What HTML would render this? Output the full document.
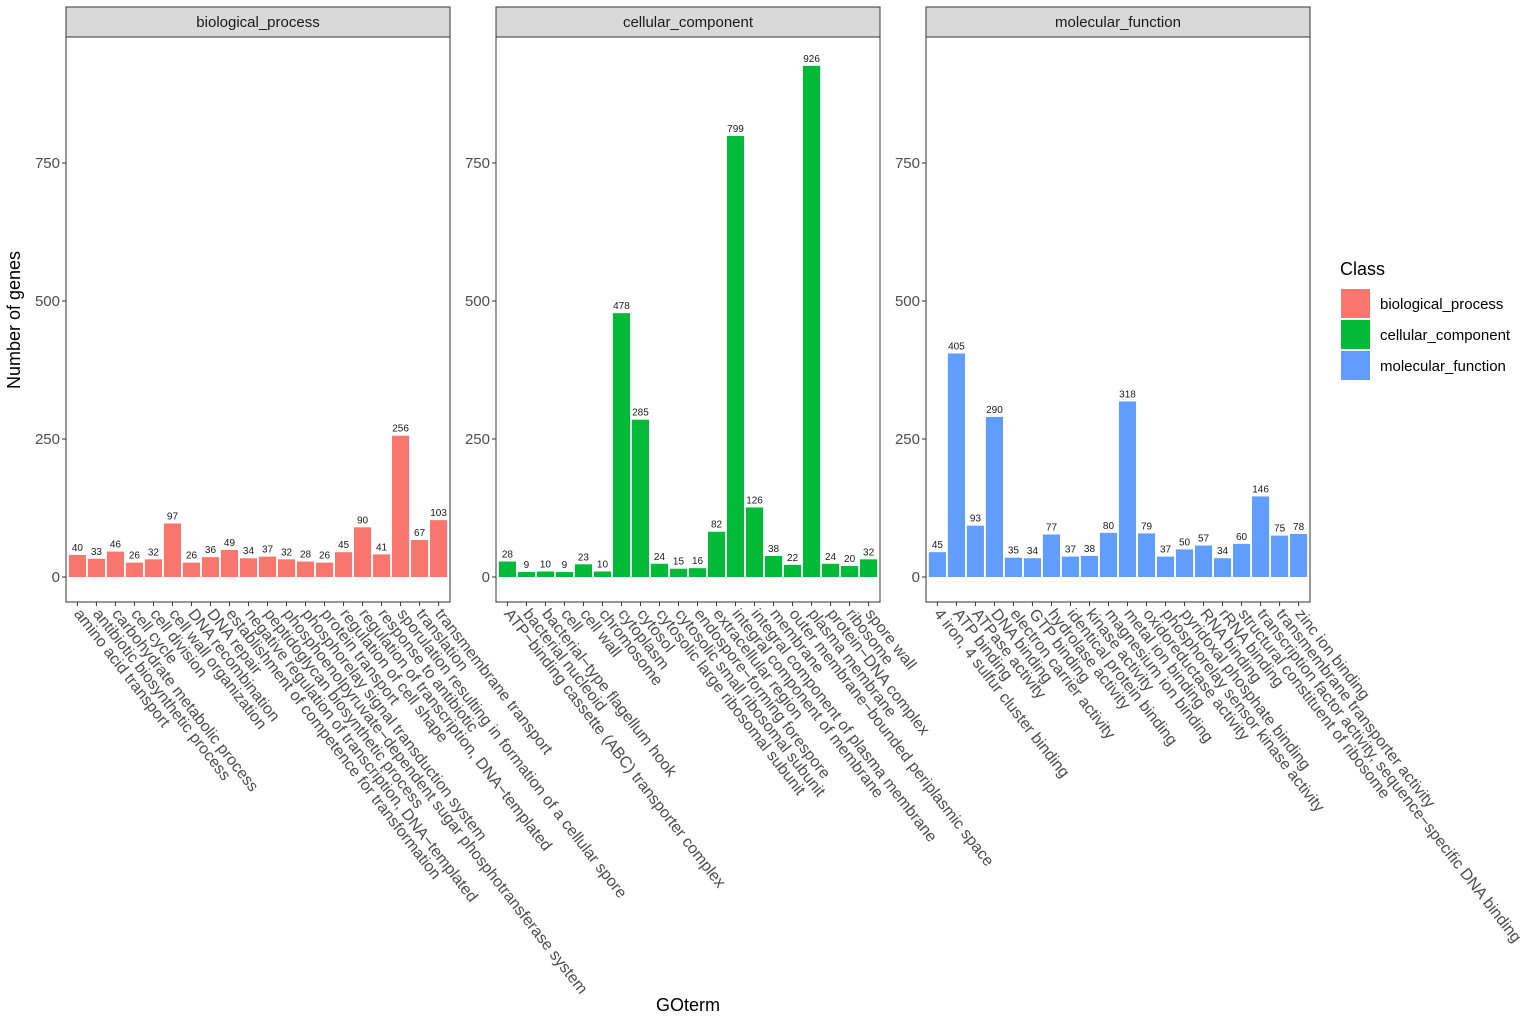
<!DOCTYPE html>
<html><head><meta charset="utf-8">
<style>
html,body{margin:0;padding:0;background:#fff;}
svg{display:block;font-family:"Liberation Sans",Arial,sans-serif;}
</style></head>
<body>
<svg id="chart" width="1535" height="1022" viewBox="0 0 1535 1022"></svg>
<script>
const panelTitles = ["biological_process","cellular_component","molecular_function"];
const colors = ["#F8766D","#00BA38","#619CFF"];
const bpTerms = ["amino acid transport","antibiotic biosynthetic process","carbohydrate metabolic process","cell cycle","cell division","cell wall organization","DNA recombination","DNA repair","establishment of competence for transformation","negative regulation of transcription, DNA\u2212templated","peptidoglycan biosynthetic process","phosphoenolpyruvate\u2212dependent sugar phosphotransferase system","phosphorelay signal transduction system","protein transport","regulation of cell shape","regulation of transcription, DNA\u2212templated","response to antibiotic","sporulation resulting in formation of a cellular spore","translation","transmembrane transport"];
const bpValues = [40,33,46,26,32,97,26,36,49,34,37,32,28,26,45,90,41,256,67,103];
const ccTerms = ["ATP\u2212binding cassette (ABC) transporter complex","bacterial nucleoid","bacterial\u2212type flagellum hook","cell","cell wall","chromosome","cytoplasm","cytosol","cytosolic large ribosomal subunit","cytosolic small ribosomal subunit","endospore\u2212forming forespore","extracellular region","integral component of membrane","integral component of plasma membrane","membrane","outer membrane\u2212bounded periplasmic space","plasma membrane","protein\u2212DNA complex","ribosome","spore wall"];
const ccValues = [28,9,10,9,23,10,478,285,24,15,16,82,799,126,38,22,926,24,20,32];
const mfTerms = ["4 iron, 4 sulfur cluster binding","ATP binding","ATPase activity","DNA binding","electron carrier activity","GTP binding","hydrolase activity","identical protein binding","kinase activity","magnesium ion binding","metal ion binding","oxidoreductase activity","phosphorelay sensor kinase activity","pyridoxal phosphate binding","RNA binding","rRNA binding","structural constituent of ribosome","transcription factor activity, sequence\u2212specific DNA binding","transmembrane transporter activity","zinc ion binding"];
const mfValues = [45,405,93,290,35,34,77,37,38,80,318,79,37,50,57,34,60,146,75,78];
const yTicks = [0,250,500,750];

const NS="http://www.w3.org/2000/svg";
const svg=document.getElementById('chart');
function mk(tag,attrs,parent){const e=document.createElementNS(NS,tag);for(const k in attrs)e.setAttribute(k,attrs[k]);(parent||svg).appendChild(e);return e;}

const panelX=[66,496,926], panelW=384, plotTop=37, plotBot=602, y0=577, pxPerUnit=414/750;
function yScale(v){return y0-v*pxPerUnit;}
const termsAll=[bpTerms,ccTerms,mfTerms], valsAll=[bpValues,ccValues,mfValues];

panelTitles.forEach((t,p)=>{
  const px=panelX[p];
  const terms=termsAll[p], vals=valsAll[p];
  const step=panelW/(terms.length-1+1.2);
  function xScale(i){return px+step*(0.6+i);}
  const g=mk('g',{});
  
  
  const strip=mk('rect',{x:px,y:7,width:panelW,height:30,fill:'#D9D9D9',stroke:'#333',"stroke-width":1},g);
  
  
  const st=mk('text',{x:px+panelW/2,y:27,"text-anchor":"middle","font-size":15,fill:'#1a1a1a'},g);
  st.textContent=t;
  
  
  yTicks.forEach(v=>{
    const y=yScale(v);
    mk('line',{x1:px-4,x2:px,y1:y,y2:y,stroke:'#333'},g);
    const tl=mk('text',{x:px-6,y:y+5,"text-anchor":"end","font-size":15,fill:'#4d4d4d'},g);
    tl.textContent=v;
    
    
  });
  vals.forEach((v,i)=>{
    const cx=xScale(i), bw=step*0.9;
    const r=mk('rect',{x:cx-bw/2,y:yScale(v),width:bw,height:v*pxPerUnit,fill:colors[p]},g);
    
    
    const vl=mk('text',{x:cx,y:yScale(v)-4,"text-anchor":"middle","font-size":10,fill:'#1a1a1a'},g);
    vl.textContent=v;
    
    
    mk('line',{x1:cx,x2:cx,y1:plotBot,y2:plotBot+4,stroke:'#333'},g);
    const xl=mk('text',{x:0,y:0,"font-size":16,fill:'#4d4d4d',transform:`translate(${cx-4},${plotBot+12}) rotate(52)`},g);
    xl.textContent=terms[i];
    
    
  });
  mk('rect',{x:px,y:plotTop,width:panelW,height:plotBot-plotTop,fill:'none',stroke:'#333',"stroke-width":1},g);
});

const yt=mk('text',{x:0,y:0,"text-anchor":"middle","font-size":18,fill:'#000',transform:'translate(20,320) rotate(-90)'});
yt.textContent='Number of genes';


const xt=mk('text',{x:688,y:1011,"text-anchor":"middle","font-size":18,fill:'#000'});
xt.textContent='GOterm';



const lg=mk('g',{});


const lt=mk('text',{x:1340,y:275,"font-size":18,fill:'#000'},lg);
lt.textContent='Class';
panelTitles.forEach((t,i)=>{
  const y=289+i*31;
  const k=mk('rect',{x:1341,y:y,width:29,height:29,fill:colors[i]},lg);
  
  
  const tx=mk('text',{x:1380,y:y+20,"font-size":15,fill:'#000'},lg);
  tx.textContent=t;
  
  
});
</script>
</body></html>
